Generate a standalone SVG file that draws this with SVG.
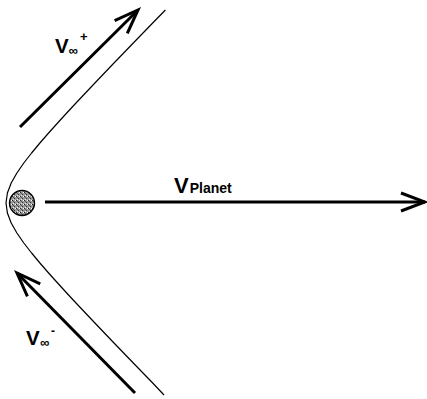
<svg xmlns="http://www.w3.org/2000/svg" width="427" height="399" viewBox="0 0 427 399">
<style>
.lbl{font-family:"Liberation Sans",Arial,sans-serif;font-weight:bold;fill:#000}
.vec{stroke:#000;stroke-width:3;fill:none;marker-end:url(#chev)}
.orbit{stroke:#000;stroke-width:1.2;fill:none}
</style>
<defs>
<marker id="chev" markerUnits="userSpaceOnUse" orient="auto" markerWidth="40" markerHeight="40" refX="0" refY="0" viewBox="-30 -20 40 40" overflow="visible">
<path d="M-24,-9 L0,0 L-24,9" fill="none" stroke="#000" stroke-width="3" stroke-linejoin="miter"/>
</marker>
<pattern id="stipple" width="4" height="4" patternUnits="userSpaceOnUse">
<rect width="4" height="4" fill="#9a9a9a"/>
<rect x="0" y="0" width="1" height="1" fill="#222"/>
<rect x="2" y="2" width="1" height="1" fill="#333"/>
<rect x="1" y="1" width="1" height="1" fill="#555"/>
<rect x="3" y="0" width="1" height="1" fill="#fff"/>
<rect x="1" y="3" width="1" height="1" fill="#eee"/>
</pattern>
</defs>
<g id="orbit">
<path class="orbit" d="M165.4,10 L152.7,23 L133.3,43 L114,63 L94.9,83 L76,103 L66.7,113 L57.6,123 L48.6,133 L39.9,143 L31.6,153 L23.8,163 L16.9,173 L11.2,183 L7.4,193 L6,203 L7.4,213 L11.2,223 L16.9,233 L23.8,243 L31.6,253 L39.9,263 L48.6,273 L57.6,283 L66.7,293 L76,303 L94.9,323 L114,343 L133.3,363 L152.7,383 L164,395" stroke-linejoin="round"/>
</g>
<g id="planet">
<circle cx="22" cy="203" r="12.5" fill="url(#stipple)" stroke="#000" stroke-width="1.4"/>
</g>
<g id="connectors">
<line class="vec" x1="45" y1="202" x2="425" y2="202"/>
<line class="vec" x1="20" y1="127" x2="138" y2="10"/>
<line class="vec" x1="135" y1="393" x2="17" y2="273"/>
</g>
<g id="label-vplanet">
<text class="lbl" x="174" y="193" font-size="22">V<tspan font-size="14" dx="1">Planet</tspan></text>
</g>
<g id="label-vinf-plus">
<text class="lbl" x="55" y="53" font-size="20.5">V</text>
<text class="lbl" x="68.5" y="55" font-size="13">∞</text>
<text class="lbl" x="80" y="41" font-size="13">+</text>
</g>
<g id="label-vinf-minus">
<text class="lbl" x="26" y="345" font-size="20.5">V</text>
<text class="lbl" x="40" y="347" font-size="13">∞</text>
<text class="lbl" x="51" y="335" font-size="12">-</text>
</g>
</svg>
